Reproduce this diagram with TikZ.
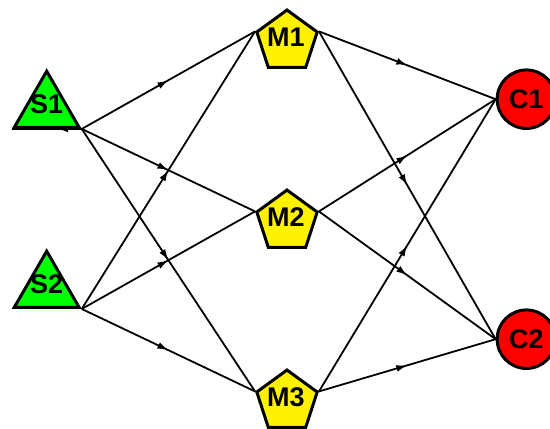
\documentclass[tikz,border=0pt]{standalone}
\usepackage{fontspec}
\setmainfont{Liberation Sans}
\usetikzlibrary{shapes.geometric,arrows.meta,decorations.markings}
\begin{document}
\begin{tikzpicture}[x=1pt,y=-1pt,
  src/.style={regular polygon,regular polygon sides=3,minimum size=75pt,inner sep=0pt,draw,line width=3pt,fill=green},
  mach/.style={regular polygon,regular polygon sides=5,minimum size=63.5pt,inner sep=0pt,draw,line width=3pt,fill=yellow},
  cust/.style={circle,minimum size=58.5pt,inner sep=0pt,draw,line width=3pt,fill=red},
  lbl/.style={font=\fontsize{27}{27}\selectfont\bfseries},
  arr/.style={line width=1.8pt,postaction={decorate},
    decoration={markings,mark=at position #1 with {\arrow{Latex[length=11pt,width=7pt]}}}},
  arr/.default=0.5]
\useasboundingbox (0,0) rectangle (550,429);

\node[src,label={[lbl,yshift=4pt]center:S1}] (S1) at (46.7,108.7) {};
\node[src,label={[lbl,yshift=4pt]center:S2}] (S2) at (46.7,288.7) {};
\node[mach,label={[lbl,yshift=5pt,xshift=-1pt]center:M1}] (M1) at (287,41.8) {};
\node[mach,label={[lbl,yshift=5pt,xshift=-1pt]center:M2}] (M2) at (287,221.8) {};
\node[mach,label={[lbl,yshift=5pt,xshift=-1pt]center:M3}] (M3) at (287,401.8) {};
\node[cust,label={[lbl]center:C1}] (C1) at (526.4,99.2) {};
\node[cust,label={[lbl]center:C2}] (C2) at (526.4,339.2) {};

% suppliers to machines
\foreach \s in {S1,S2}
  \foreach \m in {M1,M2,M3}
    \draw[arr] (\s.corner 3) -- (\m.corner 2);
% machines to customers
\foreach \m in {M1,M2,M3}
  \foreach \c in {C1,C2}
    \draw[arr] (\m.corner 5) -- (\c.west);
\draw[arr=0.35] (S1.corner 3) -- (S1.corner 2);
\end{tikzpicture}
\end{document}
